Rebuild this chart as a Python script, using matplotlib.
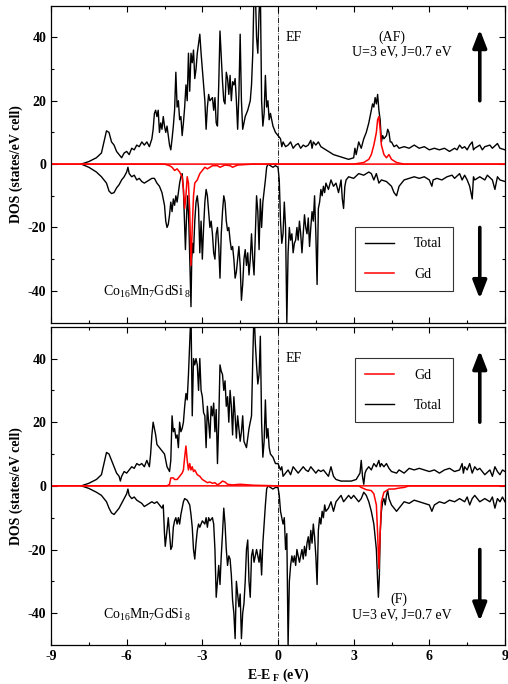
import matplotlib
matplotlib.use("Agg")
import matplotlib.pyplot as plt
import numpy as np

plt.rcParams['font.family'] = ['Liberation Serif', 'DejaVu Serif']
plt.rcParams['mathtext.fontset'] = 'custom'
plt.rcParams['mathtext.rm'] = 'Liberation Serif'
plt.rcParams['mathtext.it'] = 'Liberation Serif:italic'
plt.rcParams['mathtext.bf'] = 'Liberation Serif:bold'

# ---------------- data (energy in eV, DOS in states/eV cell) ----------------
# Top panel (AF)
af_tot_up = [(-7.8,0),(-7.5,0.8),(-7.2,2),(-7.0,3.5),(-6.9,7),(-6.8,10.5),(-6.7,10),(-6.6,7),(-6.5,6),(-6.4,4),(-6.3,3),(-6.2,2),(-6.1,3.5),(-6.0,4),(-5.9,3),(-5.8,5),(-5.7,4.5),(-5.6,6),(-5.5,5.5),(-5.4,7),(-5.3,6),(-5.2,7),(-5.1,5.5),(-5.0,8),(-4.95,11),(-4.9,16),(-4.85,17),(-4.8,15),(-4.75,17),(-4.7,10),(-4.65,13),(-4.6,11),(-4.55,15),(-4.5,12),(-4.45,10),(-4.4,12),(-4.3,6),(-4.25,4.5),(-4.2,8),(-4.15,12),(-4.1,17),(-4.05,29),(-4.0,18),(-3.95,20),(-3.9,14),(-3.85,15),(-3.8,9),(-3.75,13),(-3.7,18),(-3.65,25),(-3.6,20),(-3.55,35),(-3.5,23),(-3.45,35),(-3.4,32),(-3.35,36),(-3.3,27),(-3.25,30),(-3.2,35),(-3.1,41),(-3.05,35),(-3.0,30),(-2.9,20),(-2.85,11),(-2.8,18),(-2.75,22),(-2.7,20),(-2.6,21),(-2.55,17),(-2.5,21),(-2.45,13),(-2.4,12),(-2.35,25),(-2.3,42),(-2.25,34),(-2.2,26),(-2.15,20),(-2.1,19),(-2.05,29),(-2.0,27),(-1.95,22),(-1.9,28),(-1.85,20),(-1.8,26),(-1.75,25),(-1.7,27),(-1.65,20),(-1.6,11),(-1.55,22),(-1.5,41),(-1.45,20),(-1.4,11),(-1.35,13),(-1.3,15),(-1.2,17),(-1.1,20),(-1.05,25),(-1.0,35),(-0.95,55),(-0.9,55),(-0.85,40),(-0.8,35),(-0.75,48),(-0.7,55),(-0.65,20),(-0.6,12),(-0.55,16),(-0.5,28),(-0.45,18),(-0.4,20),(-0.35,14),(-0.3,16),(-0.2,12),(-0.1,10),(0.0,9),(0.1,8),(0.15,5.5),(0.2,7),(0.3,5.5),(0.4,6),(0.5,7),(0.6,5),(0.7,6),(0.8,6.5),(0.9,5),(1.0,6),(1.1,5.5),(1.2,6),(1.3,7.5),(1.35,5),(1.4,7),(1.5,6),(1.6,7),(1.7,5.5),(1.8,5),(2.0,4),(2.2,3),(2.4,2.5),(2.6,2),(2.8,1.5),(3.0,2),(3.05,5),(3.1,3),(3.2,7),(3.3,5),(3.4,8),(3.5,10),(3.6,13),(3.7,17),(3.75,19),(3.8,18),(3.85,21),(3.9,19),(3.95,22),(4.0,17),(4.05,14),(4.1,7),(4.15,9),(4.2,8),(4.3,9),(4.35,11),(4.4,10),(4.45,7),(4.5,7),(4.6,5.5),(4.7,6),(4.8,5),(5.0,5.5),(5.2,5),(5.4,6),(5.6,5),(5.8,5.5),(6.0,4.5),(6.2,5),(6.4,4.5),(6.6,5),(6.8,4),(7.0,5),(7.1,4.5),(7.2,6),(7.3,5),(7.4,5.5),(7.5,4.5),(7.6,6),(7.7,7),(7.75,4.5),(7.8,5),(8.0,6),(8.1,4.5),(8.2,5.5),(8.4,6),(8.5,5),(8.7,6.5),(8.8,5),(9.0,4.5)]
af_tot_dn = [(-7.8,0),(-7.5,-1),(-7.2,-2.5),(-7.0,-4),(-6.8,-6),(-6.7,-8.5),(-6.6,-9.3),(-6.5,-9),(-6.4,-7.5),(-6.3,-6.5),(-6.2,-5),(-6.1,-4),(-6.0,-2.5),(-5.95,-1),(-5.9,-3),(-5.8,-4),(-5.7,-3.5),(-5.6,-5),(-5.5,-4.5),(-5.4,-5.5),(-5.3,-6),(-5.2,-5.5),(-5.1,-5),(-5.0,-4.5),(-4.9,-4.5),(-4.8,-6),(-4.7,-7),(-4.6,-9),(-4.5,-13),(-4.45,-18),(-4.4,-20),(-4.35,-19),(-4.3,-16),(-4.25,-12),(-4.2,-15),(-4.15,-11),(-4.1,-13),(-4.05,-10),(-4.0,-12),(-3.9,-6),(-3.85,-4),(-3.8,-3),(-3.75,-8),(-3.7,-20),(-3.67,-27),(-3.62,-15),(-3.58,-10),(-3.53,-20),(-3.48,-35),(-3.45,-45),(-3.42,-30),(-3.38,-25),(-3.35,-28),(-3.3,-18),(-3.25,-12),(-3.2,-10),(-3.15,-14),(-3.1,-28),(-3.05,-18),(-3.0,-30),(-2.95,-20),(-2.9,-12),(-2.85,-8),(-2.8,-10),(-2.75,-15),(-2.7,-20),(-2.65,-18),(-2.6,-22),(-2.55,-28),(-2.5,-30),(-2.45,-22),(-2.4,-20),(-2.35,-26),(-2.3,-36),(-2.25,-22),(-2.2,-15),(-2.15,-10),(-2.1,-12),(-2.05,-18),(-2.0,-21),(-1.95,-20),(-1.9,-24),(-1.85,-27),(-1.8,-26),(-1.75,-30),(-1.7,-36),(-1.65,-34),(-1.6,-30),(-1.55,-26),(-1.5,-32),(-1.45,-43),(-1.4,-38),(-1.35,-30),(-1.3,-27),(-1.25,-32),(-1.2,-28),(-1.15,-35),(-1.1,-30),(-1.05,-22),(-1.0,-30),(-0.95,-35),(-0.9,-22),(-0.85,-10),(-0.8,-15),(-0.75,-27),(-0.7,-11),(-0.65,-20),(-0.6,-12),(-0.5,-5),(-0.45,-1),(-0.4,0),(-0.3,-0.5),(-0.2,-1),(-0.1,-0.5),(0.0,-1),(0.05,-5),(0.1,-18),(0.15,-25),(0.2,-22),(0.25,-12),(0.3,-20),(0.35,-50),(0.4,-28),(0.45,-20),(0.5,-24),(0.55,-22),(0.6,-28),(0.65,-25),(0.7,-24),(0.75,-20),(0.8,-24),(0.85,-18),(0.9,-22),(0.95,-28),(1.0,-22),(1.05,-16),(1.1,-20),(1.15,-22),(1.2,-17),(1.25,-26),(1.3,-20),(1.35,-15),(1.4,-18),(1.45,-10),(1.5,-22),(1.55,-38),(1.6,-14),(1.65,-12),(1.7,-8),(1.75,-10),(1.8,-7),(1.85,-9),(1.9,-6),(2.0,-8),(2.1,-5),(2.2,-7),(2.3,-6),(2.4,-9),(2.5,-5),(2.55,-11),(2.6,-14),(2.65,-7),(2.7,-5),(2.8,-4),(3.0,-4.5),(3.2,-3),(3.4,-3.5),(3.6,-2.5),(3.7,-3),(3.8,-5),(3.9,-3),(4.0,-6),(4.1,-5),(4.3,-5.5),(4.5,-7),(4.6,-9),(4.7,-10),(4.8,-7),(4.9,-6),(5.0,-5),(5.2,-4.5),(5.4,-4),(5.6,-4.5),(5.8,-4),(6.0,-5),(6.1,-7),(6.15,-5),(6.3,-4.5),(6.5,-5),(6.7,-4),(6.9,-3.5),(7.0,-4.5),(7.2,-3),(7.3,-5),(7.4,-3.5),(7.5,-5),(7.6,-7),(7.7,-11),(7.75,-4),(7.8,-5),(8.0,-4),(8.2,-5),(8.3,-3.5),(8.5,-5),(8.6,-8),(8.7,-4),(8.8,-5),(9.0,-5.5)]
af_gd_up = [(-9,0),(3.0,0),(3.4,0.5),(3.6,1.5),(3.7,3),(3.8,6),(3.9,10),(3.95,14),(4.0,15),(4.05,11),(4.1,6),(4.2,3),(4.3,2),(4.4,3),(4.5,1.5),(4.7,0.5),(5.0,0),(9.0,0)]
af_gd_dn = [(-9,0),(-4.5,0),(-4.3,-0.5),(-4.2,-1),(-4.1,-2),(-4.0,-1.5),(-3.9,-2.5),(-3.8,-4),(-3.75,-8),(-3.7,-14),(-3.65,-10),(-3.6,-4),(-3.55,-6),(-3.5,-15),(-3.45,-32),(-3.4,-20),(-3.35,-10),(-3.3,-6),(-3.2,-5),(-3.1,-3),(-3.0,-2),(-2.9,-1),(-2.8,-1.5),(-2.6,-0.5),(-2.4,-0.5),(-2.3,-1),(-2.1,-0.3),(-1.9,-0.5),(-1.8,-1),(-1.6,-0.3),(-1.0,0),(9,0)]

# Bottom panel (F)
f_tot_up = [(-7.8,0),(-7.5,0.8),(-7.2,2),(-7.0,3.5),(-6.9,7),(-6.8,10.5),(-6.7,10),(-6.6,8),(-6.5,6),(-6.4,4),(-6.3,3),(-6.25,1.5),(-6.2,3),(-6.1,4.5),(-6.0,4),(-5.9,5),(-5.8,6),(-5.7,5.5),(-5.6,7),(-5.5,6.5),(-5.4,7),(-5.3,6),(-5.2,8),(-5.1,6),(-5.05,10),(-5.0,16),(-4.95,20),(-4.9,18),(-4.85,16),(-4.8,13),(-4.7,12),(-4.6,11),(-4.5,10),(-4.45,8),(-4.4,6),(-4.3,4.5),(-4.25,8),(-4.2,22),(-4.15,17),(-4.1,18),(-4.05,15),(-4.0,16),(-3.95,12),(-3.9,20),(-3.85,17),(-3.8,18),(-3.75,20),(-3.7,25),(-3.65,29),(-3.6,27),(-3.55,35),(-3.5,45),(-3.45,55),(-3.4,22),(-3.35,40),(-3.3,38),(-3.25,40),(-3.2,38),(-3.15,30),(-3.1,40),(-3.05,30),(-3.0,28),(-2.95,23),(-2.9,22),(-2.85,12),(-2.8,25),(-2.75,20),(-2.7,15),(-2.65,25),(-2.6,22),(-2.55,26),(-2.5,17),(-2.45,24),(-2.4,7),(-2.35,20),(-2.3,38),(-2.25,36),(-2.2,35),(-2.15,30),(-2.1,33),(-2.05,25),(-2.0,28),(-1.95,20),(-1.9,30),(-1.85,25),(-1.8,16),(-1.75,28),(-1.7,22),(-1.65,15),(-1.6,22),(-1.55,18),(-1.5,14),(-1.45,17),(-1.4,22),(-1.35,14),(-1.3,13),(-1.25,12),(-1.2,15),(-1.15,18),(-1.1,20),(-1.05,22),(-1.0,40),(-0.95,55),(-0.9,45),(-0.85,38),(-0.8,32),(-0.75,35),(-0.7,47),(-0.65,20),(-0.6,9),(-0.55,14),(-0.5,27),(-0.45,15),(-0.4,18),(-0.35,12),(-0.3,10),(-0.2,9),(-0.1,7),(0.0,7),(0.1,5),(0.15,6),(0.2,3),(0.3,4),(0.4,5),(0.5,3.5),(0.6,6),(0.7,5),(0.8,4),(0.9,5),(1.0,6),(1.1,5),(1.2,4.5),(1.3,6),(1.4,5),(1.5,4),(1.6,5),(1.7,4.5),(1.8,5),(1.9,4),(2.0,3),(2.1,6),(2.2,3),(2.3,2),(2.5,1.5),(2.7,1.5),(2.9,1.5),(3.1,2),(3.25,4),(3.3,8),(3.35,3),(3.4,0.5),(3.45,4),(3.5,5),(3.6,6),(3.7,5),(3.8,7),(3.9,6),(4.0,8),(4.05,6),(4.1,7),(4.2,6),(4.3,7),(4.4,5.5),(4.5,4.5),(4.7,4),(4.8,5),(5.0,4),(5.2,5.5),(5.4,5),(5.6,5.5),(5.8,5),(6.0,4.5),(6.2,5),(6.4,4),(6.6,5),(6.8,5.5),(7.0,4.5),(7.2,5),(7.3,7),(7.35,4),(7.4,6),(7.5,5),(7.6,7),(7.7,4),(7.8,6),(7.9,5),(8.0,5.5),(8.2,3.5),(8.4,5),(8.5,3),(8.6,6),(8.7,4.5),(8.8,3.5),(8.9,5),(9.0,4.5)]
f_tot_dn = [(-7.8,0),(-7.5,-0.8),(-7.2,-2),(-7.0,-3),(-6.8,-5),(-6.7,-7),(-6.6,-8.5),(-6.5,-9),(-6.4,-8),(-6.3,-7),(-6.2,-5.5),(-6.1,-4),(-6.0,-2.5),(-5.95,-1),(-5.9,-3),(-5.8,-4),(-5.7,-3.5),(-5.6,-4.5),(-5.5,-5),(-5.4,-5.5),(-5.3,-6.5),(-5.2,-6),(-5.1,-5.5),(-5.0,-5),(-4.9,-5.5),(-4.8,-5),(-4.7,-6),(-4.6,-7),(-4.55,-6),(-4.5,-15),(-4.47,-19),(-4.4,-14),(-4.35,-10),(-4.3,-15),(-4.25,-20),(-4.2,-19),(-4.15,-13),(-4.1,-11),(-4.05,-10),(-4.0,-12),(-3.95,-10),(-3.9,-12),(-3.85,-9),(-3.8,-7),(-3.75,-5),(-3.7,-4),(-3.6,-4.5),(-3.5,-6),(-3.45,-9),(-3.4,-13),(-3.35,-20),(-3.3,-23),(-3.25,-18),(-3.2,-14),(-3.15,-12),(-3.1,-13),(-3.0,-11),(-2.9,-12),(-2.85,-10),(-2.8,-13),(-2.75,-10),(-2.7,-11),(-2.6,-10),(-2.55,-12),(-2.5,-20),(-2.45,-35),(-2.4,-30),(-2.35,-25),(-2.3,-31),(-2.25,-22),(-2.2,-15),(-2.15,-7),(-2.1,-12),(-2.05,-20),(-2.0,-25),(-1.95,-22),(-1.9,-23),(-1.85,-28),(-1.8,-36),(-1.75,-40),(-1.7,-48),(-1.65,-30),(-1.6,-34),(-1.55,-38),(-1.5,-34),(-1.45,-48),(-1.4,-40),(-1.35,-37),(-1.3,-30),(-1.25,-20),(-1.2,-17),(-1.15,-30),(-1.1,-35),(-1.05,-22),(-1.0,-20),(-0.95,-24),(-0.9,-22),(-0.85,-20),(-0.8,-22),(-0.75,-24),(-0.7,-20),(-0.65,-28),(-0.6,-18),(-0.55,-12),(-0.5,-6),(-0.45,-1),(-0.4,0),(-0.3,-0.5),(-0.2,-1),(-0.1,-0.5),(0.0,-0.5),(0.05,-3),(0.1,-8),(0.15,-10),(0.2,-12),(0.25,-10),(0.3,-20),(0.35,-15),(0.4,-50),(0.45,-30),(0.5,-25),(0.55,-22),(0.6,-24),(0.65,-22),(0.7,-25),(0.75,-20),(0.8,-22),(0.85,-24),(0.9,-22),(0.95,-20),(1.0,-23),(1.05,-19),(1.1,-22),(1.15,-18),(1.2,-16),(1.25,-20),(1.3,-14),(1.35,-18),(1.4,-12),(1.45,-16),(1.5,-22),(1.55,-31),(1.6,-14),(1.65,-10),(1.7,-12),(1.75,-8),(1.8,-10),(1.85,-6),(1.9,-8),(2.0,-7),(2.1,-5),(2.2,-8),(2.3,-5),(2.4,-4),(2.5,-3),(2.6,-5),(2.7,-4),(2.8,-3),(2.9,-4),(3.0,-3),(3.1,-4),(3.2,-5),(3.3,-4),(3.4,-2),(3.5,-3),(3.6,-5),(3.7,-8),(3.8,-12),(3.9,-20),(3.95,-30),(3.98,-35),(4.02,-28),(4.05,-15),(4.1,-8),(4.15,-5),(4.2,-4),(4.25,-6),(4.3,-3),(4.35,-1.5),(4.4,-4),(4.5,-6),(4.6,-7),(4.7,-8),(4.8,-7),(4.9,-6),(5.0,-5),(5.2,-5.5),(5.4,-4.5),(5.6,-5),(5.8,-5.5),(6.0,-6),(6.1,-8),(6.2,-6),(6.4,-5),(6.6,-5.5),(6.8,-4.5),(7.0,-5),(7.2,-4),(7.4,-5),(7.5,-3.5),(7.6,-6),(7.7,-4),(7.8,-3),(8.0,-5),(8.2,-4),(8.4,-5),(8.5,-3.5),(8.6,-7),(8.7,-4),(8.8,-5),(8.9,-3.5),(9.0,-5)]
f_gd_up = [(-9,0),(-4.4,0),(-4.3,0.5),(-4.25,2.5),(-4.15,2.5),(-4.1,2),(-4.0,2),(-3.9,3),(-3.8,4),(-3.75,5),(-3.7,9),(-3.65,12.5),(-3.6,8),(-3.55,5),(-3.5,7),(-3.45,5),(-3.4,6),(-3.35,4.5),(-3.3,5),(-3.2,3.5),(-3.1,3),(-3.0,2),(-2.9,1.5),(-2.8,1),(-2.7,1.2),(-2.6,0.8),(-2.5,1),(-2.4,0.3),(-2.3,0.8),(-2.2,1.5),(-2.1,1.2),(-2.0,0.5),(-1.8,0.3),(-1.5,0.5),(-1.0,0.2),(0,0),(9,0)]
f_gd_dn = [(-9,0),(3.2,0),(3.3,-0.5),(3.5,-1.2),(3.7,-1.5),(3.8,-2.5),(3.9,-6),(3.95,-15),(4.0,-26),(4.05,-15),(4.1,-5),(4.2,-2),(4.3,-1.5),(4.4,-1),(4.6,-1),(4.8,-0.7),(5.0,-0.5),(5.2,0),(9,0)]

x_ticks = [-9, -6, -3, 0, 3, 6, 9]
y_ticks = [-40, -20, 0, 20, 40]
formula = 'Co$_{16}$Mn$_7$GdSi$_{\\ 8}$'
param_text = 'U=3 eV, J=0.7 eV'

# ---------------- figure ----------------
W, H = 508, 684
fig = plt.figure(figsize=(W/100, H/100), dpi=100)
ax1 = fig.add_axes([51/W, 1-322.5/H, 454/W, 316.8/H])
ax2 = fig.add_axes([51/W, 1-645/H, 454/W, 318.3/H])

def xy(pts):
    a = np.array(pts, dtype=float)
    return a[:, 0], a[:, 1]

def style(ax, show_xlabels):
    ax.set_xlim(-9, 9)
    ax.set_ylim(-50, 50)
    ax.set_xticks(x_ticks)
    ax.set_yticks(y_ticks)
    ax.set_xticks(np.arange(-7.5, 9, 3), minor=True)
    ax.set_yticks([-30, -10, 10, 30], minor=True)
    ax.tick_params(which='both', direction='in', top=True, right=True)
    ax.tick_params(which='major', length=4, width=0.8)
    ax.tick_params(which='minor', length=2.5, width=0.8)
    ax.set_yticklabels([str(v) for v in y_ticks], fontsize=10, fontweight='bold')
    if show_xlabels:
        ax.set_xticklabels([str(v) for v in x_ticks], fontsize=10, fontweight='bold')
    else:
        ax.set_xticklabels([])
    ax.set_ylabel('DOS (states/eV cell)', fontsize=10, fontweight='bold', labelpad=3)
    for s in ax.spines.values():
        s.set_linewidth(0.9)
    ax.axvline(0, color='black', lw=0.6, ls='-.', zorder=1)

style(ax1, False)
style(ax2, True)
ax2.set_xlabel('E-E$_{\\ \\mathbf{F}}$ (eV)', fontsize=10, fontweight='bold', labelpad=3)

# top
x, y = xy(af_tot_up); l_tot1, = ax1.plot(x, y, color='black', lw=1.0, label='Total')
x, y = xy(af_tot_dn); ax1.plot(x, y, color='black', lw=1.0)
x, y = xy(af_gd_up); l_gd1, = ax1.plot(x, y, color='red', lw=1.1, label='Gd')
x, y = xy(af_gd_dn); ax1.plot(x, y, color='red', lw=1.1)

# bottom
x, y = xy(f_tot_up); l_tot2, = ax2.plot(x, y, color='black', lw=1.0, label='Total')
x, y = xy(f_tot_dn); ax2.plot(x, y, color='black', lw=1.0)
x, y = xy(f_gd_up); l_gd2, = ax2.plot(x, y, color='red', lw=1.1, label='Gd')
x, y = xy(f_gd_dn); ax2.plot(x, y, color='red', lw=1.1)

leg_kw = dict(fontsize=10, frameon=True, fancybox=False, edgecolor='black',
              labelspacing=1.25, handlelength=2.1, handletextpad=1.4, borderpad=0.75,
              borderaxespad=0)
# legend box centres (axes fraction)
leg1 = ax1.legend(handles=[l_tot1, l_gd1], loc='center', bbox_to_anchor=(0.777, 0.20), **leg_kw)
leg1.get_frame().set_linewidth(0.8)
leg2 = ax2.legend(handles=[l_gd2, l_tot2], loc='center', bbox_to_anchor=(0.777, 0.80), **leg_kw)
leg2.get_frame().set_linewidth(0.8)

# texts
ax1.text(0.3, 40, 'EF', fontsize=10, ha='left', va='center')
ax2.text(0.3, 40, 'EF', fontsize=10, ha='left', va='center')
ax1.text(4.5, 40, '(AF)', fontsize=10, ha='center', va='center')
ax1.text(4.9, 35.5, param_text, fontsize=10, ha='center', va='center')
ax2.text(4.8, -35.5, '(F)', fontsize=10, ha='center', va='center')
ax2.text(4.9, -40.5, param_text, fontsize=10, ha='center', va='center')
ax1.text(-5.2, -40.5, formula, fontsize=10, ha='center', va='center')
ax2.text(-5.2, -40.5, formula, fontsize=10, ha='center', va='center')

# spin arrows
arrow_kw = dict(arrowstyle='-|>,head_length=0.9,head_width=0.35', color='black', lw=2.6,
                shrinkA=0, shrinkB=0, mutation_scale=12)
for ax in (ax1, ax2):
    ax.annotate('', xy=(8.0, 42.5), xytext=(8.0, 20), arrowprops=arrow_kw)
    ax.annotate('', xy=(8.0, -42.5), xytext=(8.0, -20), arrowprops=arrow_kw)

fig.savefig('out.png', dpi=100)
